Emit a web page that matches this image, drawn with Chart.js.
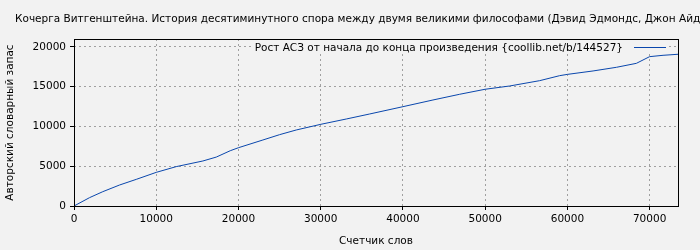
<!DOCTYPE html>
<html><head><meta charset="utf-8">
<script src="https://cdn.jsdelivr.net/npm/chart.js@4/dist/chart.umd.min.js"></script>
<style>html,body{margin:0;padding:0;background:#f2f2f2;}#c{display:block;}</style>
</head><body>
<canvas id="c" width="700" height="250"></canvas>
<script>
const titleText = "Кочерга Витгенштейна. История десятиминутного спора между двумя великими философами (Дэвид Эдмондс, Джон Айдиноу)";
const legendText = "Рост АСЗ от начала до конца произведения {coollib.net/b/144527}";
const xTitle = "Счетчик слов";
const yTitle = "Авторский словарный запас";
const wordCounts = [0,1890,3500,5540,7570,10000,12430,15670,17300,19000,20000,22970,25000,27030,30000,33110,35950,40000,43650,46900,50000,52980,56630,59060,60000,63120,65960,68390,70000,71630,73450];
const vocabulary = [0,1050,1800,2640,3350,4230,4950,5660,6150,6950,7330,8300,8970,9560,10270,10940,11570,12490,13330,14050,14680,15090,15760,16390,16550,16980,17440,17940,18780,18950,19080];
const xTicks = [0,10000,20000,30000,40000,50000,60000,70000];
const yTicks = [0,5000,10000,15000,20000];

const FONT = "'DejaVu Sans', sans-serif";
const FS = 10.5;
const lineColor = '#0a47ad';

const framePlugin = {
  id: 'frame',
  beforeDraw(chart) {
    const c = chart.ctx;
    c.save();
    c.fillStyle = '#f2f2f2';
    c.fillRect(0, 0, chart.width, chart.height);
    c.restore();
  },
  beforeDatasetsDraw(chart) {
    const c = chart.ctx;
    c.save();
    c.fillStyle = '#f2f2f2';
    c.fillRect(252, 40, 416, 13);
    c.restore();
  },
  afterDraw(chart) {
    const c = chart.ctx, a = chart.chartArea;
    c.save();
    c.strokeStyle = '#000';
    c.lineWidth = 1;
    c.strokeRect(Math.round(a.left) + 0.5, Math.round(a.top) + 0.5, Math.round(a.right - a.left), Math.round(a.bottom - a.top));
    c.fillStyle = '#000';
    c.font = FS + "px " + FONT;
    c.textBaseline = 'alphabetic';
    c.textAlign = 'left';
    c.fillText(titleText, 15, 22);
    c.textAlign = 'right';
    c.fillText(legendText, 623, 51);
    c.strokeStyle = lineColor;
    c.beginPath();
    c.moveTo(634, 47.5);
    c.lineTo(666, 47.5);
    c.stroke();
    c.restore();
  }
};

const gridColor = ctx => (ctx.tick && ctx.tick.value === 0) ? 'rgba(0,0,0,0)' : '#a0a0a0';

new Chart(document.getElementById('c'), {
  type: 'line',
  data: {
    datasets: [{
      data: wordCounts.map((x, i) => ({x: x, y: vocabulary[i]})),
      borderColor: lineColor,
      borderWidth: 1,
      pointRadius: 0,
      tension: 0,
      fill: false
    }]
  },
  options: {
    responsive: false,
    animation: false,
    devicePixelRatio: 1,
    layout: { padding: { left: 4, right: 22, top: 39, bottom: 2 } },
    plugins: { legend: { display: false }, title: { display: false }, tooltip: { enabled: false } },
    scales: {
      x: {
        type: 'linear',
        min: 0, max: 73450,
        afterBuildTicks: s => { s.ticks = xTicks.map(v => ({value: v})); },
        afterFit: s => { s.height = 42; },
        border: { display: false, dash: [2, 3] },
        grid: {
          color: gridColor, lineWidth: 1,
          drawTicks: true, tickLength: 4, tickColor: '#000', tickBorderDash: []
        },
        ticks: { color: '#000', font: { family: FONT, size: FS }, padding: 3, maxRotation: 0, autoSkip: false, callback: v => String(v) },
        title: { display: true, text: xTitle, color: '#000', font: { family: FONT, size: FS }, padding: { top: 2, bottom: 0 } }
      },
      y: {
        type: 'linear',
        min: 0, max: 21000,
        afterBuildTicks: s => { s.ticks = yTicks.map(v => ({value: v})); },
        afterFit: s => { s.width = 70; },
        border: { display: false, dash: [2, 3] },
        grid: {
          color: gridColor, lineWidth: 1,
          drawTicks: true, tickLength: 4, tickColor: '#000', tickBorderDash: []
        },
        ticks: { color: '#000', font: { family: FONT, size: FS }, padding: 4, autoSkip: false, callback: v => String(v) },
        title: { display: true, text: yTitle, color: '#000', font: { family: FONT, size: FS }, padding: { top: 0, bottom: 4 } }
      }
    }
  },
  plugins: [framePlugin]
});
</script>
</body></html>
